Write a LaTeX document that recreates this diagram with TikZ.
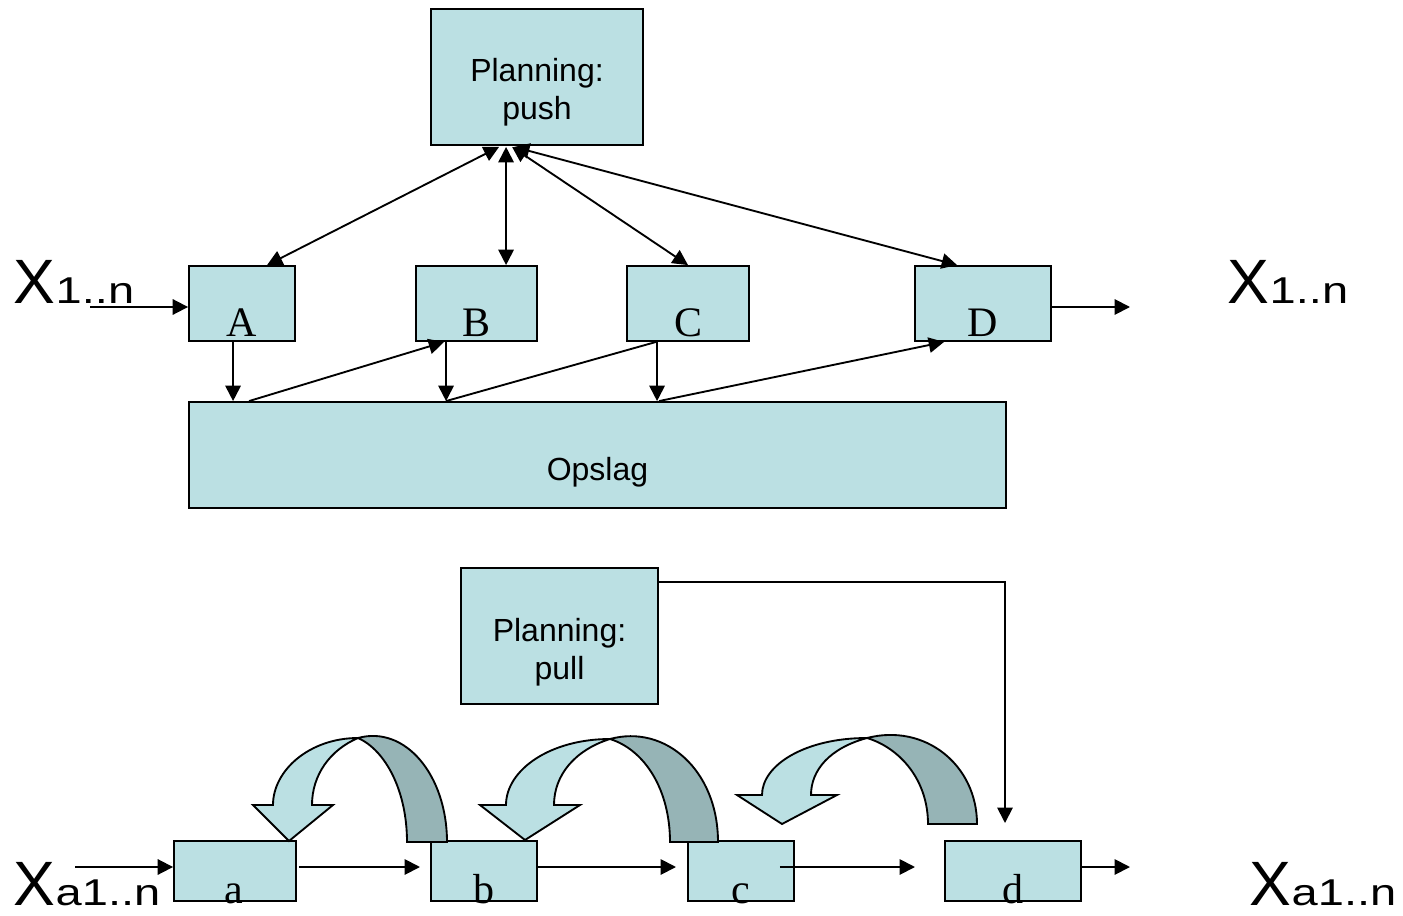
\documentclass[tikz,border=0pt]{standalone}
\usepackage{fontspec}
\usepackage{graphicx}
\setmainfont{Liberation Serif}
\newfontfamily\sansfam{Liberation Sans}
\usetikzlibrary{arrows.meta,calc}
\definecolor{boxfill}{RGB}{187,224,227}
\definecolor{bandshade}{RGB}{150,180,182}

\newcommand\bigX[1]{{\sansfam\fontsize{47}{47}\selectfont X}\scalebox{1.26}[1]{\sansfam\fontsize{28}{28}\selectfont #1}}

\begin{document}
\begin{tikzpicture}[x=0.75pt,y=-0.75pt,
  every path/.style={line width=1.4pt},
  box/.style={draw=black, fill=boxfill, line width=1.4pt, inner sep=0pt, rectangle},
  bw/.style={minimum width=#1*0.75pt},
  bh/.style={minimum height=#1*0.75pt},
  sanslbl/.style={inner sep=0pt, font=\sansfam\fontsize{24}{28.5}\selectfont, align=center},
  seriflbl/.style={inner sep=0pt, anchor=base, font=\fontsize{31.5}{31.5}\selectfont},
  xlbl/.style={inner sep=0pt, anchor=base west},
  conn/.style={-{Triangle[length=11.5pt,width=11.5pt]}},
  dconn/.style={{Triangle[length=11.5pt,width=11.5pt]}-{Triangle[length=11.5pt,width=11.5pt]}},
  band/.style={draw=black, line width=1.4pt, line join=miter}
]
\useasboundingbox (0,0) rectangle (1403,916);

% ---------- push planning ----------
\node[box, bw=212, bh=136] (push) at (537,77) {};
\node[sanslbl, anchor=base] (pushtxt) at (537,120) {Planning:\\push};

\node[box, bw=106, bh=75] (A) at (242,303.5) {};
\node[box, bw=121, bh=75] (B) at (476.5,303.5) {};
\node[box, bw=122, bh=75] (C) at (688,303.5) {};
\node[box, bw=136, bh=75] (D) at (983,303.5) {};
\node[seriflbl] (Atxt) at (242,336) {A};
\node[seriflbl] (Btxt) at (476.5,336) {B};
\node[seriflbl] (Ctxt) at (688,336) {C};
\node[seriflbl] (Dtxt) at (983,336) {D};

\node[box, bw=817, bh=106] (opslag) at (597.5,455) {};
\node[sanslbl, anchor=base] (opslagtxt) at (597.5,480) {Opslag};

\node[xlbl] (xin) at (13,304) {\bigX{1..n}};
\node[xlbl] (xout) at (1227,304) {\bigX{1..n}};

% planning to stations
\draw[dconn] ($(push.south west)+(69,1)$) -- ($(A.north west)+(79,0)$);
\draw[dconn] ($(push.south west)+(76,1)$) -- ($(B.north west)+(91,0)$);
\draw[dconn] ($(push.south west)+(82,1)$) -- (C.north);
\draw[dconn] ($(push.south west)+(84,1)$) -- ($(D.north west)+(43,0)$);

% material flow in and out
\coordinate (xinstart) at (90,307);
\draw[conn] (xinstart) -- ($(A.west)+(0,3.5)$);
\coordinate (xoutend) at (1130,307);
\draw[conn] ($(D.east)+(0,3.5)$) -- (xoutend);

% stations and the store
\draw[conn] ($(A.south west)+(45,0)$) -- ($(opslag.north west)+(45,0)$);
\draw[conn] ($(opslag.north west)+(61,0)$) -- ($(B.south west)+(29,0)$);
\draw[conn] ($(B.south west)+(31,0)$) -- ($(opslag.north west)+(258,0)$);
\draw ($(C.south west)+(30,0)$) -- ($(opslag.north west)+(258,0)$);
\draw[conn] ($(C.south west)+(31,0)$) -- ($(opslag.north west)+(469,0)$);
\draw[conn] ($(opslag.north west)+(471,0)$) -- ($(D.south west)+(30,0)$);

% ---------- pull planning ----------
\node[box, bw=197, bh=136] (pull) at (559.5,636) {};
\node[sanslbl, anchor=base] (pulltxt) at (559.5,679) {Planning:\\pull};

\node[box, bw=122, bh=60] (a) at (235,871) {};
\node[box, bw=106, bh=60] (b) at (484,871) {};
\node[box, bw=106, bh=60] (c) at (741,871) {};
\node[box, bw=136, bh=60] (d) at (1013,871) {};
\node[seriflbl] (atxt) at (234,903) {a};
\node[seriflbl] (btxt) at (484,903) {b};
\node[seriflbl] (ctxt) at (741,903) {c};
\node[seriflbl] (dtxt) at (1013,903) {d};

\node[xlbl] (xain) at (13,905) {\bigX{a1..n}};
\node[xlbl] (xaout) at (1249,905) {\bigX{a1..n}};

\coordinate (xastart) at (75,867);
\draw[conn] (xastart) -- ($(a.west)+(0,-4)$);
\coordinate (abend) at (420,867);
\draw[conn] ($(a.east)+(2,-4)$) -- (abend);
\coordinate (bcend) at (676,867);
\draw[conn] ($(b.east)+(0,-4)$) -- (bcend);
\coordinate (cdend) at (915,867);
\draw[conn] ($(c.east)+(-15,-4)$) -- (cdend);
\coordinate (daend) at (1130,867);
\draw[conn] ($(d.east)+(0,-4)$) -- (daend);

\coordinate (pullend) at (1005,823);
\draw[conn] ($(pull.north east)+(0,15)$) -| (pullend);

% ---------- curved feedback arrows (b->a, c->b, d->c) ----------
% b to a
\filldraw[band, fill=bandshade] (358,738) .. controls (405,725) and (447,775) .. (447,842)
  -- (407,842) .. controls (407,790) and (385,750) .. (358,738) -- cycle;
\filldraw[band, fill=boxfill] (358,738) .. controls (310,738) and (273,770) .. (273,805)
  -- (253,805) -- (289,841) -- (333,805) -- (312,805)
  .. controls (312,775) and (330,750) .. (358,738) -- cycle;
% c to b
\filldraw[band, fill=bandshade] (610,739) .. controls (665,724) and (718,770) .. (718,842)
  -- (670,842) .. controls (670,790) and (645,750) .. (610,739) -- cycle;
\filldraw[band, fill=boxfill] (610,739) .. controls (550,739) and (506,770) .. (506,805)
  -- (480,805) -- (525,840) -- (580,805) -- (554,805)
  .. controls (554,775) and (575,750) .. (610,739) -- cycle;
% d to c
\filldraw[band, fill=bandshade] (867,738) .. controls (925,723) and (977,765) .. (977,824)
  -- (928,824) .. controls (928,780) and (900,748) .. (867,738) -- cycle;
\filldraw[band, fill=boxfill] (867,738) .. controls (805,738) and (762,765) .. (762,795)
  -- (737,795) -- (782,824) -- (837,795) -- (811,795)
  .. controls (811,770) and (830,748) .. (867,738) -- cycle;
\end{tikzpicture}
\end{document}
